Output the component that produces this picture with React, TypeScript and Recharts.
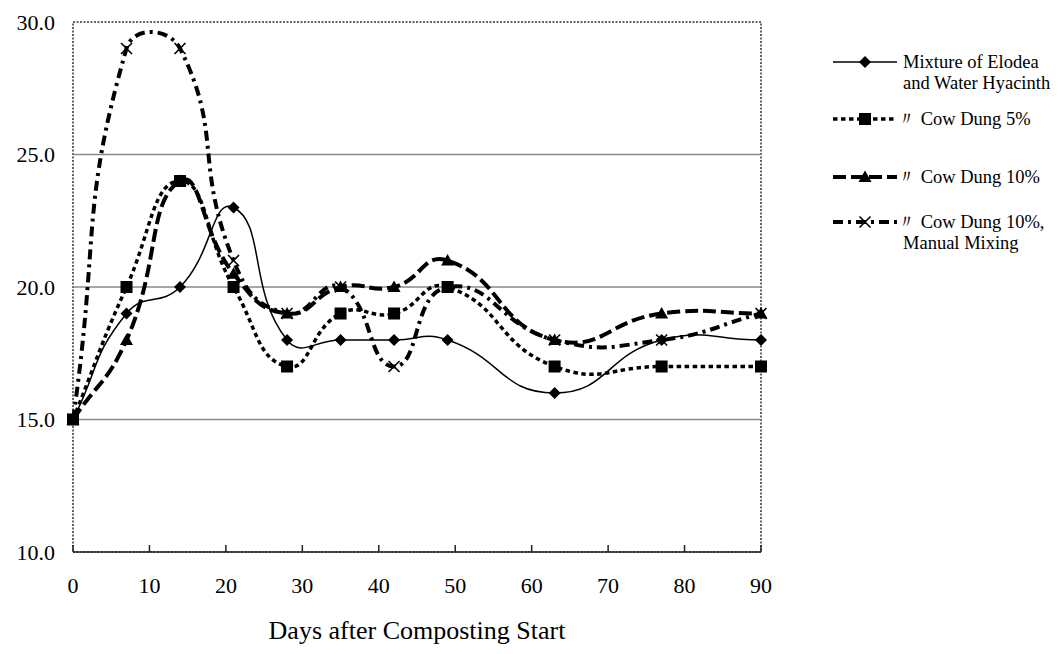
import React from "react";
import {
  LineChart,
  Line,
  XAxis,
  YAxis,
  ReferenceLine,
  ReferenceArea,
  Legend,
} from "recharts";

// days after composting start
const days = [0, 7, 14, 21, 28, 35, 42, 49, 63, 77, 90];

const mixture = [15, 19, 20, 23, 18, 18, 18, 18, 16, 18, 18];
const cowDung5 = [15, 20, 24, 20, 17, 19, 19, 20, 17, 17, 17];
const cowDung10 = [15, 18, 24, 20.5, 19, 20, 20, 21, 18, 19, 19];
const cowDung10Mixing = [15, 29, 29, 21, 19, 20, 17, 20, 18, 18, 19];

const xTicks = [0, 10, 20, 30, 40, 50, 60, 70, 80, 90];
const yTicks = [10, 15, 20, 25, 30];
const gridTicks = [15, 20, 25];

const data = days.map((d, i) => ({
  day: d,
  mixture: mixture[i],
  cowDung5: cowDung5[i],
  cowDung10: cowDung10[i],
  cowDung10Mixing: cowDung10Mixing[i],
}));

const SERIF = "'Liberation Serif', 'Times New Roman', serif";

// Excel-like smoothed line (bezier, control points scaled by segment length)
type Pt = [number, number];
const TENSION = 0.5;
function excelSmooth(context: any) {
  let pts: Pt[] = [];
  const dist = (a: Pt, b: Pt) => Math.hypot(b[0] - a[0], b[1] - a[1]);
  return {
    areaStart() {},
    areaEnd() {},
    lineStart() {
      pts = [];
    },
    point(x: number, y: number) {
      pts.push([+x, +y]);
    },
    lineEnd() {
      const n = pts.length;
      if (!n) return;
      context.moveTo(pts[0][0], pts[0][1]);
      for (let i = 0; i < n - 1; i++) {
        const p0 = pts[Math.max(i - 1, 0)];
        const p1 = pts[i];
        const p2 = pts[i + 1];
        const p3 = pts[Math.min(i + 2, n - 1)];
        const d01 = dist(p0, p1);
        const d12 = dist(p1, p2);
        const d23 = dist(p2, p3);
        const a = d01 + d12 > 0 ? (d12 / (d01 + d12)) * TENSION : 0;
        const b = d12 + d23 > 0 ? (d12 / (d12 + d23)) * TENSION : 0;
        context.bezierCurveTo(
          p1[0] + (p2[0] - p0[0]) * a,
          p1[1] + (p2[1] - p0[1]) * a,
          p2[0] - (p3[0] - p1[0]) * b,
          p2[1] - (p3[1] - p1[1]) * b,
          p2[0],
          p2[1]
        );
      }
    },
  };
}

type MarkerKind = "diamond" | "square" | "triangle" | "cross";

function Marker({ kind, cx, cy }: { kind: MarkerKind; cx: number; cy: number }) {
  if (cx == null || cy == null) return null;
  if (kind === "diamond") {
    const s = 6;
    return (
      <polygon
        points={`${cx},${cy - s} ${cx + s},${cy} ${cx},${cy + s} ${cx - s},${cy}`}
        fill="#000"
      />
    );
  }
  if (kind === "square") {
    return <rect x={cx - 6} y={cy - 6} width={12} height={12} fill="#000" />;
  }
  if (kind === "triangle") {
    return (
      <polygon
        points={`${cx},${cy - 6.5} ${cx + 6.5},${cy + 5} ${cx - 6.5},${cy + 5}`}
        fill="#000"
      />
    );
  }
  const s = 5.5;
  return (
    <g stroke="#000" strokeWidth={1.6}>
      <line x1={cx - s} y1={cy - s} x2={cx + s} y2={cy + s} />
      <line x1={cx - s} y1={cy + s} x2={cx + s} y2={cy - s} />
    </g>
  );
}

const series = [
  {
    key: "mixture",
    label: ["Mixture of Elodea", "and Water Hyacinth"],
    width: 1.5,
    dash: undefined as string | undefined,
    marker: "diamond" as MarkerKind,
  },
  {
    key: "cowDung5",
    label: ["\u3003 Cow Dung 5%"],
    width: 3.5,
    dash: "4.5 3.5",
    marker: "square" as MarkerKind,
  },
  {
    key: "cowDung10",
    label: ["\u3003 Cow Dung 10%"],
    width: 4,
    dash: "13 5",
    marker: "triangle" as MarkerKind,
  },
  {
    key: "cowDung10Mixing",
    label: ["\u3003 Cow Dung 10%,", "Manual Mixing"],
    width: 4,
    dash: "10 5 3 5",
    marker: "cross" as MarkerKind,
  },
];

const legendRowY = [22, 79, 137, 182];

function LegendBox() {
  return (
    <svg width={235} height={230} style={{ display: "block", fontFamily: SERIF }}>
      {series.map((s, i) => {
        const y = legendRowY[i];
        return (
          <g key={s.key}>
            <line
              x1={7}
              y1={y}
              x2={71}
              y2={y}
              stroke="#000"
              strokeWidth={s.width}
              strokeDasharray={s.dash}
            />
            <Marker kind={s.marker} cx={39} cy={y} />
            {s.label.map((t, j) => (
              <text
                key={j}
                x={i === 0 || (i === 3 && j === 1) ? 77 : 71}
                y={y + j * 21 + 6}
                fontSize={18.5}
                fill="#000"
              >
                {t}
              </text>
            ))}
          </g>
        );
      })}
    </svg>
  );
}

export default function App() {
  return (
    <div style={{ position: "absolute", left: 0, top: 0, background: "#fff" }}>
      <LineChart
        width={1061}
        height={654}
        data={data}
        margin={{ top: 22, right: 300, bottom: 12, left: 0 }}
        style={{ fontFamily: SERIF }}
      >
        {gridTicks.map((v) => (
          <ReferenceLine key={v} y={v} stroke="#8a8a8a" strokeWidth={1.5} />
        ))}
        <ReferenceArea
          x1={0}
          x2={90}
          y1={10}
          y2={30}
          fill="none"
          stroke="#333"
          strokeWidth={1.5}
          strokeDasharray="2 1.5"
          ifOverflow="visible"
        />
        <XAxis
          dataKey="day"
          type="number"
          domain={[0, 90]}
          ticks={xTicks}
          interval={0}
          height={90}
          axisLine={{ stroke: "#222", strokeWidth: 1.5 }}
          tickLine={{ stroke: "#222", strokeWidth: 1.5 }}
          tickSize={-7}
          tickMargin={32}
          tick={{ fill: "#000", fontSize: 22, fontFamily: SERIF }}
          label={{
            value: "Days after Composting Start",
            position: "insideBottom",
            offset: 3,
            fill: "#000",
            fontSize: 26,
            fontFamily: SERIF,
          }}
        />
        <YAxis
          type="number"
          domain={[10, 30]}
          ticks={yTicks}
          interval={0}
          width={73}
          axisLine={false}
          tickLine={false}
          tickSize={0}
          tickMargin={18}
          tickFormatter={(v: number) => v.toFixed(1)}
          tick={{ fill: "#000", fontSize: 22, fontFamily: SERIF }}
        />
        <Legend
          layout="vertical"
          align="center"
          verticalAlign="middle"
          wrapperStyle={{ left: 826, top: 40, width: 235 }}
          content={() => <LegendBox />}
        />
        {series.map((s) => (
          <Line
            key={s.key}
            dataKey={s.key}
            type={excelSmooth as any}
            stroke="#000"
            strokeWidth={s.width}
            strokeDasharray={s.dash}
            dot={(p: any) => (
              <Marker key={`${s.key}-${p.index}`} kind={s.marker} cx={p.cx} cy={p.cy} />
            )}
            activeDot={false}
            isAnimationActive={false}
          />
        ))}
      </LineChart>
    </div>
  );
}
